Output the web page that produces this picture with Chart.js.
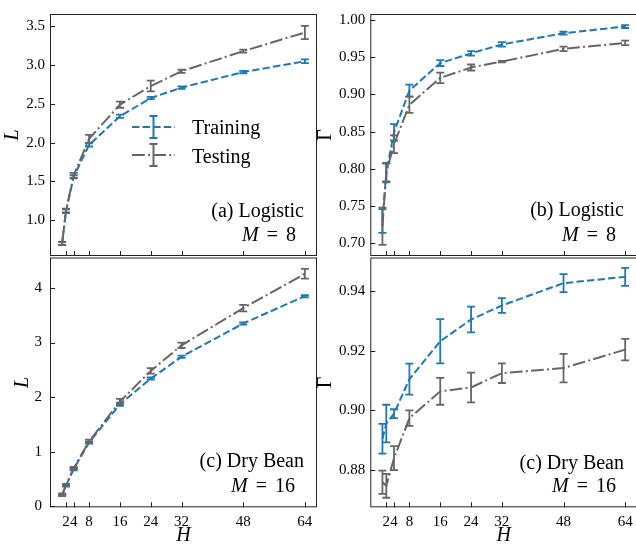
<!DOCTYPE html>
<html><head><meta charset="utf-8">
<script src="https://cdn.jsdelivr.net/npm/chart.js@4.4.0/dist/chart.umd.min.js"></script>
<style>
html,body{margin:0;padding:0;background:#fff;width:636px;height:548px;overflow:hidden;}
canvas{position:absolute;left:0;top:0;}
.t{position:absolute;font-family:'Liberation Serif',serif;font-size:20px;line-height:20px;white-space:nowrap;color:#000;z-index:5;}
.eq{margin:0 8px;}
svg{position:absolute;left:0;top:0;z-index:5;}
</style></head><body>
<canvas id="ca" width="636" height="548"></canvas>
<canvas id="cb" width="660" height="548"></canvas>
<canvas id="cc" width="636" height="548"></canvas>
<canvas id="cd" width="660" height="548"></canvas>

<div class="t" style="right:332px;top:199.5px;">(a) Logistic</div>
<div class="t" style="right:340px;top:224px;"><i>M</i><span class="eq">=</span>8</div>
<div class="t" style="right:12px;top:199px;">(b) Logistic</div>
<div class="t" style="right:20px;top:223.5px;"><i>M</i><span class="eq">=</span>8</div>
<div class="t" style="right:332px;top:450px;">(c) Dry Bean</div>
<div class="t" style="right:341px;top:475px;"><i>M</i><span class="eq">=</span>16</div>
<div class="t" style="right:12px;top:451.5px;">(c) Dry Bean</div>
<div class="t" style="right:20px;top:475px;"><i>M</i><span class="eq">=</span>16</div>

<svg width="636" height="548">
  <g stroke="#1f77b4" stroke-width="2" fill="none">
    <line x1="132" y1="127" x2="175" y2="127" stroke-dasharray="7.4 3.2"/>
    <line x1="153.5" y1="116" x2="153.5" y2="138"/>
    <line x1="149.5" y1="116" x2="157.5" y2="116"/>
    <line x1="149.5" y1="138" x2="157.5" y2="138"/>
  </g>
  <g stroke="#666666" stroke-width="2" fill="none">
    <line x1="132" y1="155" x2="175" y2="155" stroke-dasharray="12.8 3.2 2 3.2"/>
    <line x1="153.5" y1="144" x2="153.5" y2="166"/>
    <line x1="149.5" y1="144" x2="157.5" y2="144"/>
    <line x1="149.5" y1="166" x2="157.5" y2="166"/>
  </g>
</svg>
<div class="t" style="left:192px;top:117px;">Training</div>
<div class="t" style="left:192px;top:145.5px;">Testing</div>

<script>
// ---- data ----
const H = [1, 2, 4, 8, 16, 24, 32, 48, 64];
const xTicks = [2, 4, 8, 16, 24, 32, 48, 64];

const aTrain    = [0.70, 1.12, 1.56, 1.97, 2.34, 2.575, 2.71, 2.91, 3.05];
const aTrainErr = [0.02, 0.02, 0.02, 0.02, 0.02, 0.015, 0.015, 0.015, 0.025];
const aTest     = [0.70, 1.12, 1.58, 2.05, 2.49, 2.73, 2.92, 3.18, 3.42];
const aTestErr  = [0.02, 0.03, 0.03, 0.05, 0.04, 0.07, 0.02, 0.02, 0.085];
const aTicks    = [1.0, 1.5, 2.0, 2.5, 3.0, 3.5];

const bTrain    = [0.730, 0.795, 0.849, 0.905, 0.942, 0.955, 0.967, 0.982, 0.991];
const bTrainErr = [0.016, 0.013, 0.011, 0.008, 0.004, 0.003, 0.003, 0.002, 0.002];
const bTest     = [0.723, 0.795, 0.833, 0.886, 0.922, 0.936, 0.944, 0.961, 0.969];
const bTestErr  = [0.025, 0.012, 0.012, 0.011, 0.007, 0.004, 0.001, 0.003, 0.003];
const bTicks    = [0.70, 0.75, 0.80, 0.85, 0.90, 0.95, 1.00];

const cTrain    = [0.21, 0.38, 0.68, 1.17, 1.87, 2.34, 2.74, 3.35, 3.85];
const cTrainErr = [0.02, 0.02, 0.02, 0.02, 0.03, 0.02, 0.02, 0.02, 0.02];
const cTest     = [0.21, 0.39, 0.70, 1.19, 1.92, 2.48, 2.95, 3.63, 4.26];
const cTestErr  = [0.02, 0.02, 0.02, 0.03, 0.05, 0.05, 0.05, 0.06, 0.09];
const cTicks    = [0, 1, 2, 3, 4];

const dTrain    = [0.8905, 0.8956, 0.8989, 0.9105, 0.9232, 0.9305, 0.9352, 0.9427, 0.9448];
const dTrainErr = [0.0050, 0.0063, 0.0015, 0.0052, 0.0074, 0.0043, 0.0025, 0.0030, 0.0030];
const dTest     = [0.8759, 0.8747, 0.8840, 0.8974, 0.9064, 0.9077, 0.9125, 0.9142, 0.9204];
const dTestErr  = [0.0039, 0.0040, 0.0040, 0.0026, 0.0045, 0.0050, 0.0033, 0.0048, 0.0036];
const dTicks    = [0.88, 0.90, 0.92, 0.94];

const BLUE = '#1f77b4', GRAY = '#666666';
const SERIF = "'Liberation Serif', 'Times New Roman', serif";

const panelPlugin = {
  id: 'panel',
  afterDatasetDraw(chart, args) {
    const ds = chart.data.datasets[args.index];
    const {ctx, scales: {x, y}} = chart;
    ctx.save();
    ctx.beginPath();
    ctx.rect(chart.chartArea.left, chart.chartArea.top, chart.chartArea.width, chart.chartArea.height);
    ctx.clip();
    ctx.strokeStyle = ds.borderColor; ctx.lineWidth = 1.8; ctx.setLineDash([]);
    ds.data.forEach((p, j) => {
      const e = ds.errors[j];
      const px = x.getPixelForValue(p.x);
      const y1 = y.getPixelForValue(p.y - e), y2 = y.getPixelForValue(p.y + e);
      ctx.beginPath();
      ctx.moveTo(px, y1); ctx.lineTo(px, y2);
      ctx.moveTo(px - 4, y1); ctx.lineTo(px + 4, y1);
      ctx.moveTo(px - 4, y2); ctx.lineTo(px + 4, y2);
      ctx.stroke();
    });
    ctx.restore();
  },
  afterDraw(chart) {
    const {ctx, chartArea: a, scales: {x, y}} = chart;
    ctx.save();
    ctx.strokeStyle = '#222'; ctx.lineWidth = 1; ctx.setLineDash([]);
    ctx.strokeRect(a.left + 0.5, a.top + 0.5, a.right - a.left - 1, a.bottom - a.top - 1);
    ctx.beginPath();
    x.ticks.forEach(t => {
      const px = Math.round(x.getPixelForValue(t.value)) + 0.5;
      ctx.moveTo(px, a.bottom); ctx.lineTo(px, a.bottom - 5);
    });
    y.ticks.forEach(t => {
      const py = Math.round(y.getPixelForValue(t.value)) + 0.5;
      ctx.moveTo(a.left, py); ctx.lineTo(a.left + 5, py);
    });
    ctx.stroke();
    ctx.restore();
  }
};

function pts(vals) { return H.map((h, i) => ({x: h, y: vals[i]})); }

function makePanel(id, cfg) {
  new Chart(document.getElementById(id), {
    type: 'line',
    data: {
      datasets: [
        {label: 'Training', data: pts(cfg.train), errors: cfg.trainErr, borderColor: BLUE,
         borderWidth: 2, borderDash: [7.4, 3.2], pointRadius: 0, tension: 0, fill: false, order: 1},
        {label: 'Testing', data: pts(cfg.test), errors: cfg.testErr, borderColor: GRAY,
         borderWidth: 2, borderDash: [12.8, 3.2, 2, 3.2], pointRadius: 0, tension: 0, fill: false, order: 0}
      ]
    },
    options: {
      responsive: false, animation: false, devicePixelRatio: 1,
      layout: {padding: cfg.pad},
      plugins: {legend: {display: false}, tooltip: {enabled: false}},
      scales: {
        x: {
          type: 'linear', min: -2.15, max: 67.15,
          afterBuildTicks: s => { s.ticks = xTicks.map(v => ({value: v})); },
          afterFit: s => { s.height = cfg.xh; },
          grid: {display: false, drawTicks: false},
          border: {display: false},
          ticks: {display: cfg.xLabels, autoSkip: false, maxRotation: 0, minRotation: 0,
                  padding: 6, color: '#000', font: {family: SERIF, size: 15},
                  callback: v => String(v)},
          title: {display: cfg.xLabels, text: 'H', color: '#000',
                  font: {family: SERIF, size: 20, style: 'italic'}, padding: {top: 0, bottom: 0.5}}
        },
        y: {
          type: 'linear', min: cfg.ymin, max: cfg.ymax,
          afterBuildTicks: s => { s.ticks = cfg.yTicks.map(v => ({value: v})); },
          afterFit: s => { s.width = cfg.yw; },
          grid: {display: false, drawTicks: false},
          border: {display: false},
          ticks: {padding: cfg.ypad, color: '#000', font: {family: SERIF, size: 15},
                  callback: v => v.toFixed(cfg.dec)},
          title: {display: true, text: cfg.ytitle, color: '#000',
                  font: {family: SERIF, size: 20, style: cfg.ytitle === 'L' ? 'italic' : 'normal'},
                  padding: {top: cfg.ytp, bottom: 0}}
        }
      }
    },
    plugins: [panelPlugin]
  });
}

function drawAll() {
  makePanel('ca', {train: aTrain, trainErr: aTrainErr, test: aTest, testErr: aTestErr, yTicks: aTicks,
    ymin: 0.538, ymax: 3.659, dec: 1, ytitle: 'L', xLabels: false,
    pad: {left: 0, top: 5, right: 319, bottom: 286}, xh: 6, yw: 50, ypad: 5, ytp: 1});
  makePanel('cb', {train: bTrain, trainErr: bTrainErr, test: bTest, testErr: bTestErr, yTicks: bTicks,
    ymin: 0.683, ymax: 1.0078, dec: 2, ytitle: 'Γ', xLabels: false,
    pad: {left: 310, top: 5, right: 22.7, bottom: 286}, xh: 6, yw: 60.3, ypad: 5, ytp: 4});
  makePanel('cc', {train: cTrain, trainErr: cTrainErr, test: cTest, testErr: cTestErr, yTicks: cTicks,
    ymin: -0.018, ymax: 4.558, dec: 0, ytitle: 'L', xLabels: true,
    pad: {left: 0, top: 257.5, right: 319, bottom: 0}, xh: 40.7, yw: 50, ypad: 8, ytp: 10.7});
  makePanel('cd', {train: dTrain, trainErr: dTrainErr, test: dTest, testErr: dTestErr, yTicks: dTicks,
    ymin: 0.8675, ymax: 0.9513, dec: 2, ytitle: 'Γ', xLabels: true,
    pad: {left: 310, top: 257.5, right: 22.7, bottom: 0}, xh: 40.7, yw: 60.3, ypad: 5, ytp: 4});
}

if (document.fonts && document.fonts.load) {
  Promise.all([
    document.fonts.load("15px 'Liberation Serif'"),
    document.fonts.load("italic 20px 'Liberation Serif'"),
    document.fonts.load("20px 'Liberation Serif'")
  ]).then(drawAll, drawAll);
} else {
  drawAll();
}
</script>
</body></html>
